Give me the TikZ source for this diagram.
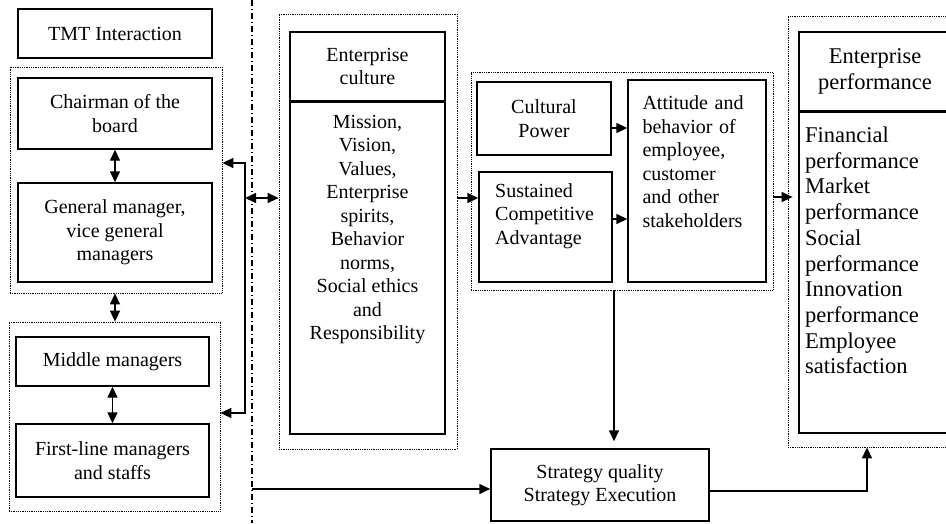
\documentclass[tikz,border=0pt]{standalone}
\usepackage{fontspec}
\setmainfont{Liberation Serif}
\usetikzlibrary{arrows.meta,calc}
\begin{document}
\begin{tikzpicture}[x=1pt,y=-1pt,
  every node/.style={font=\fontsize{20}{23.5}\selectfont, inner sep=0pt},
  box/.style={draw, line width=1.4pt, rectangle},
  grp/.style={draw, line width=0.8pt, dash pattern=on 0.8pt off 1pt, rectangle},
  big/.style={font=\fontsize{22.5}{25.7}\selectfont},
  arr/.style={line width=1.4pt, -{Triangle[length=11pt,width=10pt]}},
  darr/.style={line width=1.4pt, {Triangle[length=11pt,width=10pt]}-{Triangle[length=11pt,width=10pt]}},
  sepline/.style={line width=1.1pt, dash pattern=on 6pt off 3pt on 1pt off 3pt}
]
\useasboundingbox (0,0) rectangle (946,523);
\clip (0,0) rectangle (946,523);

% groups
\node[grp, minimum width=212pt, minimum height=226pt] (g1) at (116,180) {};
\node[grp, minimum width=211pt, minimum height=189pt] (g2) at (114.5,416.5) {};
\node[grp, minimum width=178pt, minimum height=435pt] (g3) at (368,231.5) {};
\node[grp, minimum width=302pt, minimum height=218pt] (g4) at (622,181) {};
\node[grp, minimum width=172pt, minimum height=431pt] (g5) at (874,231.5) {};

% left column
\node[box, minimum width=194pt, minimum height=49pt, align=center] (tmt) at (115,33.5) {TMT Interaction};
\node[box, minimum width=194pt, minimum height=71pt, align=center] (chair) at (115,113.5) {Chairman of the\\board};
\node[box, minimum width=194pt, minimum height=99pt, align=center] (gm) at (115,232.5) {General manager,\\vice general\\managers};
\node[box, minimum width=193pt, minimum height=49pt, align=center] (mid) at (112.5,361.5) {Middle managers};
\node[box, minimum width=193pt, minimum height=73pt, align=center] (first) at (112.5,460.5) {First-line managers\\and staffs};

\draw[darr] (chair.south) -- (gm.north);
\draw[darr] (g1.south -| chair.south) -- (g2.north -| chair.south);
\draw[darr] (mid.south) -- (first.north);

\coordinate (bt) at (245,163);
\coordinate (bb) at (245,413);
\coordinate (bm) at (245,198);
\draw[darr, line join=miter] (g1.east |- bt) -- (bt) -- (bb) -- (g2.east |- bb);

% separator
\coordinate (d0) at (252,0);
\coordinate (d1) at (252,523);
\draw[sepline] (d0) -- (d1);

% enterprise culture
\node[box, minimum width=155pt, minimum height=68.5pt, align=center] (ech) at (367.5,66.25) {Enterprise\\culture};
\node[box, minimum width=155pt, minimum height=332pt] (ecb) at (367.5,268) {};
\node[align=center] (ect) at (367.5,229.5) {Mission,\\Vision,\\Values,\\Enterprise\\spirits,\\Behavior\\norms,\\Social ethics\\and\\Responsibility};

\draw[darr] (bm) -- (bm -| g3.west);

% middle group
\node[box, minimum width=134pt, minimum height=73pt, align=center] (cp) at (544,118.5) {Cultural\\Power};
\node[box, minimum width=133pt, minimum height=110pt] (sca) at (545.5,227) {};
\node[align=left, anchor=west] (scat) at (495,216) {Sustained\\Competitive\\Advantage};
\node[box, minimum width=138pt, minimum height=202pt] (att) at (697,181) {};
\node[align=left, text width=110pt] (attt) at (697.5,161.5) {\makebox[110pt][s]{Attitude and}\\\makebox[110pt][s]{behavior of}\\employee,\\customer\\and other\\stakeholders};

\coordinate (c1) at (460,198);
\draw[arr] (g3.east |- c1) -- (sca.west |- c1);
\coordinate (c2) at (620,128);
\draw[arr] (cp.east |- c2) -- (att.west |- c2);
\coordinate (c3) at (620,219);
\draw[arr] (sca.east |- c3) -- (att.west |- c3);

% enterprise performance
\node[box, big, minimum width=152pt, minimum height=78.5pt, align=center] (eph) at (875,71.25) {Enterprise\\performance};
\node[box, minimum width=152pt, minimum height=321pt] (epb) at (875,272.5) {};
\node[big, align=left, anchor=west] (ept) at (805,250.5) {Financial\\performance\\Market\\performance\\Social\\performance\\Innovation\\performance\\Employee\\satisfaction};

\coordinate (c4) at (780,197);
\draw[arr] (g4.east |- c4) -- ($(g5.west |- c4)+(5,0)$);

% strategy
\node[box, minimum width=218pt, minimum height=72pt, align=center] (strat) at (600,485) {Strategy quality\\Strategy Execution};
\coordinate (vx) at (614,300);
\draw[arr] (g4.south -| vx) -- ($(strat.north -| vx)+(0,-7)$);
\coordinate (s0) at (252,489);
\draw[arr] (s0) -- (strat.west |- s0);
\coordinate (s2) at (867,491);
\draw[arr, line join=miter] (strat.east |- s2) -- (s2) -- (s2 |- g5.south);
\end{tikzpicture}
\end{document}
